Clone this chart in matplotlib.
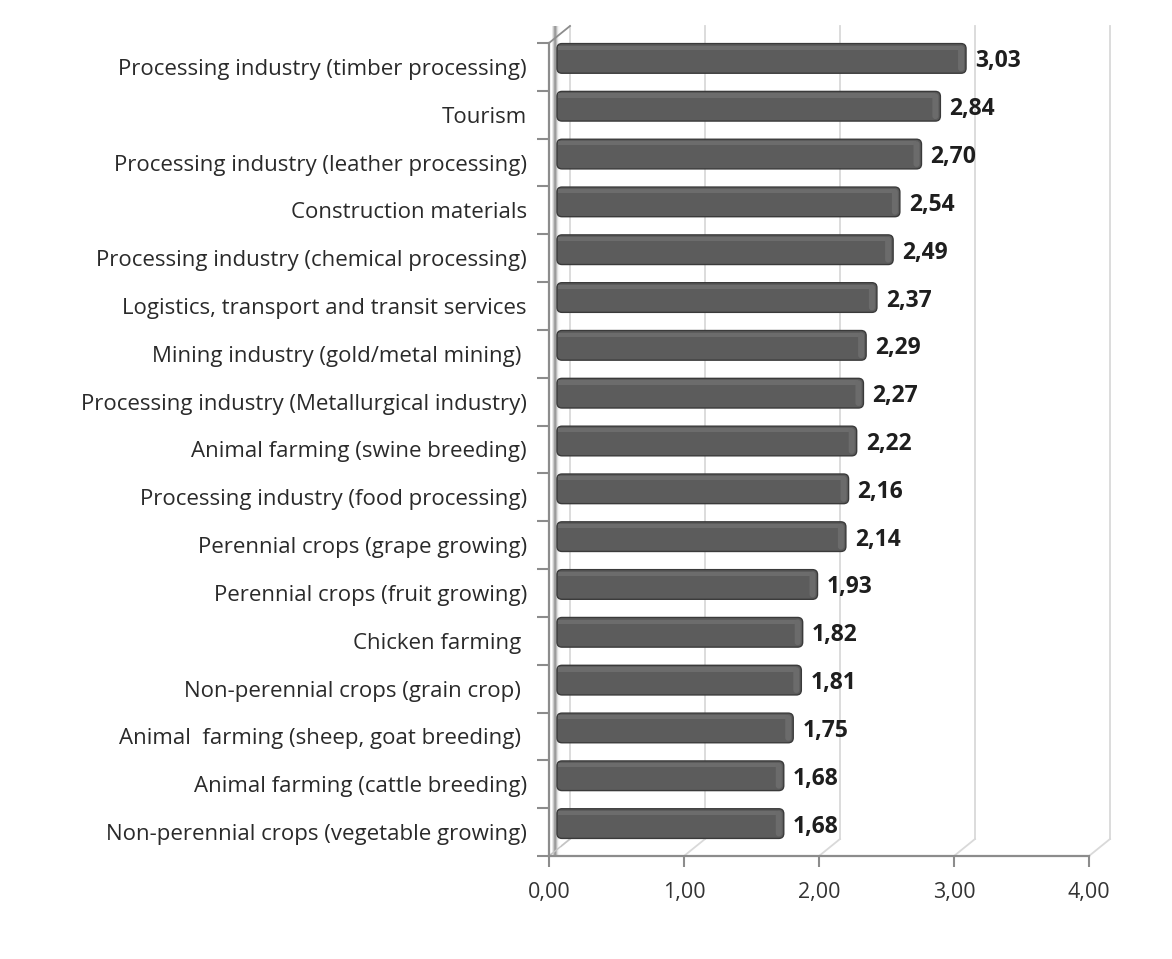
import numpy as np
import matplotlib
matplotlib.use("Agg")
import matplotlib.pyplot as plt
from matplotlib.patches import FancyBboxPatch, Polygon

plt.rcParams['font.family'] = ['Open Sans', 'DejaVu Sans']

# Sectors, listed bottom to top as drawn on the category axis
categories = [
    "Non-perennial crops (vegetable growing)",
    "Animal farming (cattle breeding)",
    "Animal  farming (sheep, goat breeding) ",
    "Non-perennial crops (grain crop) ",
    "Chicken farming ",
    "Perennial crops (fruit growing)",
    "Perennial crops (grape growing)",
    "Processing industry (food processing)",
    "Animal farming (swine breeding)",
    "Processing industry (Metallurgical industry)",
    "Mining industry (gold/metal mining) ",
    "Logistics, transport and transit services",
    "Processing industry (chemical processing)",
    "Construction materials",
    "Processing industry (leather processing)",
    "Tourism",
    "Processing industry (timber processing)",
]
scores = [1.68, 1.68, 1.75, 1.81, 1.82, 1.93, 2.14, 2.16, 2.22,
          2.27, 2.29, 2.37, 2.49, 2.54, 2.70, 2.84, 3.03]
x_ticks = [0, 1, 2, 3, 4]
x_tick_labels = ["0,00", "1,00", "2,00", "3,00", "4,00"]

W, H = 1172, 959
fig = plt.figure(figsize=(W / 100, H / 100), dpi=100)
fig.patch.set_facecolor("white")

# front plane of the pseudo-3D plot area
left_px, right_px, bottom_px, top_px = 549, 1089, 856, 43
ax = fig.add_axes([left_px / W, (H - bottom_px) / H,
                   (right_px - left_px) / W, (bottom_px - top_px) / H])
n = len(categories)
ax.set_xlim(0, 4)
ax.set_ylim(-0.5, n - 0.5)
ax.set_facecolor("none")
for s in ax.spines.values():
    s.set_visible(False)

# pixel size of one data unit -> depth offset expressed in data units
fig.canvas.draw()
p0 = ax.transData.transform((0, 0))
p1 = ax.transData.transform((1, 1))
ux, uy = p1[0] - p0[0], p1[1] - p0[1]
dx, dy = 21.0 / ux, 17.0 / uy
y_lo, y_hi = -0.5, n - 0.5

grid_c = "#d9d9d9"
axis_c = "#8c8c8c"

# back wall gridlines and floor diagonals
for v in x_ticks:
    ax.plot([v + dx, v + dx], [y_lo + dy, y_hi + dy], color=grid_c,
            lw=1.3, clip_on=False, zorder=1)
    ax.plot([v, v + dx], [y_lo, y_lo + dy], color=grid_c, lw=1.3,
            clip_on=False, zorder=1)

# thin left side wall with a soft grey gradient
wall_x0, wall_w = 3.0 / ux, dx * 0.55
grad = np.linspace(0, 1, 64)[None, :]
grad = np.exp(-((grad - 0.35) ** 2) / 0.08)
wall = Polygon([(wall_x0, y_lo), (wall_w, y_lo + dy * 0.55),
                (wall_w, y_hi + dy), (wall_x0, y_hi)],
               closed=True, facecolor="none", edgecolor="none")
ax.add_patch(wall)
im = ax.imshow(grad, extent=[wall_x0, wall_w, y_lo, y_hi + dy], aspect="auto",
               cmap="Greys", vmin=0, vmax=2.0, zorder=1.5, clip_on=False)
im.set_clip_path(wall)
ax.plot([0, dx], [y_hi, y_hi + dy], color=axis_c, lw=1.3, clip_on=False,
        zorder=2)
ax.plot([0, dx], [y_lo, y_lo + dy], color="#c4c4c4", lw=1.0, clip_on=False,
        zorder=2)

# front axes lines
ax.plot([0, 4], [y_lo, y_lo], color=axis_c, lw=1.6, clip_on=False, zorder=3)
ax.plot([0, 0], [y_lo, y_hi], color=axis_c, lw=1.6, clip_on=False, zorder=3)

# bars drawn as rounded 3D-looking cylinders
bar_h = 0.62
ox, oy = dx * 0.38, dy * 0.5
ypos = np.arange(n)
r_px = 5.0
for y, v in zip(ypos, scores):
    yc = y + oy
    body = FancyBboxPatch((ox, yc - bar_h / 2), v, bar_h,
                          boxstyle=f"round,pad=0,rounding_size={r_px / ux:.4f}",
                          mutation_aspect=ux / uy,
                          facecolor="#5c5c5c", edgecolor="#3a3a3a", lw=1.0,
                          zorder=4, clip_on=False)
    ax.add_patch(body)
    # top sheen of the cylinder
    ax.barh(yc + bar_h * 0.36, v - 6 / ux, left=ox + 1 / ux,
            height=bar_h * 0.14, color="#6c6c6c", zorder=5)
    # lighter rim at the rounded end
    cap = FancyBboxPatch((ox + v - 8 / ux, yc - bar_h / 2 + 2 / uy), 6 / ux,
                         bar_h - 4 / uy,
                         boxstyle=f"round,pad=0,rounding_size={3 / ux:.4f}",
                         mutation_aspect=ux / uy,
                         facecolor="#6b6b6b", edgecolor="none", zorder=5,
                         clip_on=False)
    ax.add_patch(cap)
    ax.text(ox + v + 9 / ux, yc - 3 / uy, f"{v:.2f}".replace(".", ","),
            ha="left", va="center", fontsize=16.5, fontweight="bold",
            color="#1e1e1e", zorder=6, clip_on=False)

# ticks and labels
ax.set_xticks(x_ticks)
ax.set_xticklabels(x_tick_labels, fontsize=15.5, color="#333333")
ax.tick_params(axis="x", length=8, width=1.5, color=axis_c, pad=11,
               direction="out")
ax.set_yticks(ypos)
ax.set_yticklabels(categories, fontsize=16, color="#2a2a2a")
ax.set_yticks(np.arange(n + 1) - 0.5, minor=True)
ax.tick_params(axis="y", which="major", length=0, pad=16)
ax.tick_params(axis="y", which="minor", length=9, width=1.5, color=axis_c,
               direction="out")

fig.savefig("out.png", dpi=100, facecolor="white")
